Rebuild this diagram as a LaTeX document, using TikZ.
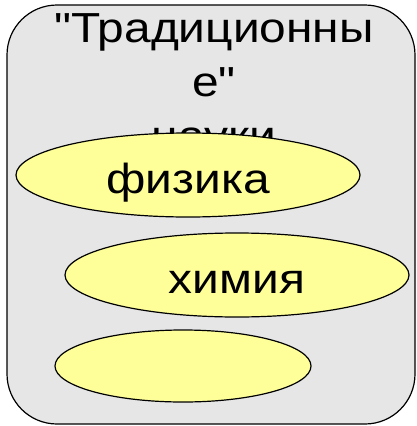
\documentclass[tikz,border=0pt]{standalone}
\usepackage{fontspec}
\newfontfamily\slidefont[FakeStretch=1.14]{Liberation Sans}
\usetikzlibrary{shapes.geometric}
\definecolor{panelgray}{HTML}{E6E6E6}
\definecolor{leafyellow}{HTML}{FFFF99}
\tikzset{
  panel/.style={draw, fill=panelgray, line width=1.2pt, rounded corners=50pt},
  leaf/.style={ellipse, draw, fill=leafyellow, line width=1.2pt, inner sep=0pt,
    text height=40pt, text depth=4pt, font=\slidefont\fontsize{42}{52}\selectfont},
}
\begin{document}
\begin{tikzpicture}[x=1pt,y=-1pt]
% frame of the picture
\useasboundingbox (0,0) rectangle (417,426);
\draw[panel] (7,5) rectangle (415,424);
\node[anchor=north, align=center, inner sep=0pt,
  font=\slidefont\fontsize{42}{54}\selectfont] (title) at (214,13)
  {"Традиционны\\е"\\науки};
% the three sciences
\node[leaf, minimum width=344pt, minimum height=84pt] (fizika) at (188,175) {физика};
\node[leaf, minimum width=344pt, minimum height=84pt] (khimiya) at (237,275) {химия};
\node[leaf, minimum width=256pt, minimum height=72pt] (other) at (183,366) {};
\end{tikzpicture}
\end{document}
